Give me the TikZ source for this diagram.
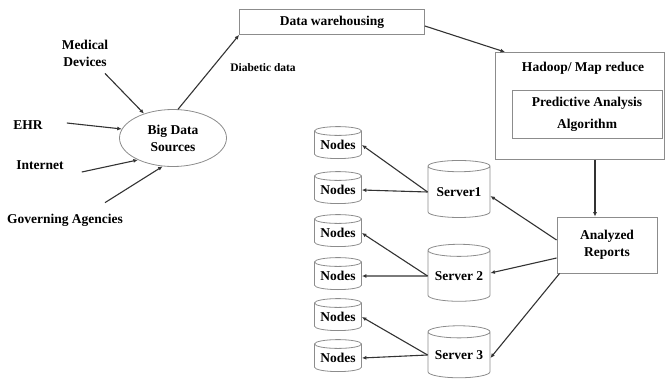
\documentclass[tikz,border=0pt]{standalone}
\usepackage{fontspec}
\setmainfont{Liberation Serif}
\usetikzlibrary{arrows.meta,shapes.geometric,positioning}

\tikzset{
  txt/.style={font=\bfseries\fontsize{13.5}{17}\selectfont, align=center, inner sep=0pt},
  box/.style={draw=black!45, line width=0.8pt, txt},
  db/.style={cylinder, shape border rotate=90, aspect=0.25, draw=black!45, line width=0.8pt, txt},
  arr/.style={-{Latex[length=4.5pt,width=4pt]}, line width=1.1pt, draw=black!80},
}

\begin{document}
\begin{tikzpicture}[x=1pt,y=-1pt]
\useasboundingbox (0,0) rectangle (665,381);
% sources
\node[ellipse, box, minimum width=107, minimum height=57] (src) at (173,138) {Big Data\\Sources};
\node[txt] (med) at (85,53) {Medical\\Devices};
\node[txt] (ehr) at (28,125) {EHR};
\node[txt] (int) at (40,165) {Internet};
\node[txt] (gov) at (65,220) {Governing Agencies};
\draw[arr] ([xshift=20pt,yshift=-7pt]med.south) -- (src.140);
\draw[arr] ([xshift=24pt,yshift=2pt]ehr.east) -- (src.170);
\draw[arr] ([xshift=18pt,yshift=-7pt]int.east) -- (src.212);
\draw[arr] ([xshift=40pt,yshift=11pt]gov.north) -- (src.250);
% warehouse and hadoop
\node[box, minimum width=185, minimum height=25] (dw) at (332,22) {Data warehousing};
\node[txt, font=\bfseries\fontsize{11.5}{14}\selectfont] (diab) at (263,68) {Diabetic data};
\draw[arr] (src.80) -- (dw.south west);
\node[box, minimum width=169, minimum height=107, anchor=north west] (had) at (495,52) {};
\node[txt] (hadtxt) at (583,68) {Hadoop/ Map reduce};
\node[box, minimum width=150, minimum height=48, font=\bfseries\fontsize{13.5}{22}\selectfont] (pa) at (587,114) {Predictive Analysis\\Algorithm};
\draw[arr] ([yshift=-4pt]dw.east) -- ([xshift=10pt]had.north west);
% reports and servers
\node[box, minimum width=100, minimum height=56] (rep) at (607,245) {Analyzed\\Reports};
\draw[arr] ([xshift=-12pt]rep.north |- had.south) -- ([xshift=-12pt]rep.north);
\node[db, minimum width=62, minimum height=57] (s1) at (459,192) {Server1};
\node[db, minimum width=62, minimum height=57] (s2) at (459,276) {Server 2};
\node[db, minimum width=62, minimum height=52] (s3) at (459,355) {Server 3};
\draw[arr] ([yshift=5pt]rep.west) -- ([yshift=-4pt]s1.east);
\draw[arr] ([yshift=-13pt]rep.west) -- ([yshift=3pt]s2.east);
\draw[arr] ([xshift=3pt]rep.south west) -- ([yshift=-3pt]s3.east);
% nodes
\foreach \i/\y in {1/145,2/190,3/233,4/276,5/317,6/358}
  \node[db, minimum width=47, minimum height=32] (n\i) at (338,\y) {Nodes};
\draw[arr] (s1.west) -- (n1.east);
\draw[arr] (s1.west) -- (n2.east);
\draw[arr] (s2.west) -- (n3.east);
\draw[arr] (s2.west) -- (n4.east);
\draw[arr] (s3.west) -- (n5.east);
\draw[arr] (s3.west) -- (n6.east);
\end{tikzpicture}
\end{document}
